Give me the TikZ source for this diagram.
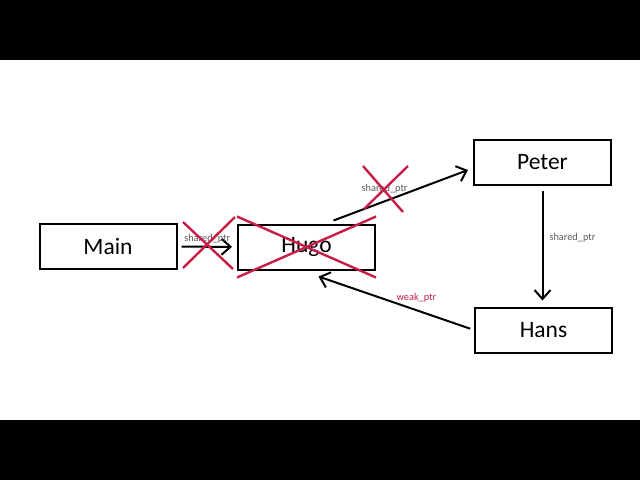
\documentclass[tikz,border=0pt]{standalone}
\usepackage{fontspec}
\setmainfont{Carlito}
\usetikzlibrary{arrows.meta}
\definecolor{crossred}{RGB}{198,30,72}
\definecolor{lblgray}{RGB}{90,90,90}
\begin{document}
\begin{tikzpicture}[x=1pt,y=-1pt]

\tikzstyle{obj}=[rectangle, draw, line width=2pt, minimum width=137pt, minimum height=45pt, font=\fontsize{23.5}{26}\selectfont]
\tikzstyle{arrow}=[-{Straight Barb[length=9pt,width=16pt]}, line width=2pt]
\tikzstyle{lbl}=[font=\fontsize{10.3}{12}\selectfont, text=lblgray, inner sep=1pt]
\tikzstyle{cross}=[crossred, line width=2.4pt]

\fill[black] (0,0) rectangle (640,480);
\fill[white] (0,60) rectangle (640,420);

\node (Main) [obj] at (108,246.5) {Main};
\node (Hugo) [obj] at (306.5,247) {Hugo};
\node (Peter) [obj] at (542.5,162) {Peter};
\node (Hans) [obj] at (543.5,330) {Hans};

\draw [arrow, shorten <=4pt, shorten >=5pt] (Main) -- node [lbl, above=2pt] {shared\_ptr} (Hugo);
\draw [arrow] ([xshift=27pt,yshift=3pt]Hugo.north) -- node [lbl, pos=0.38, above=6pt] {shared\_ptr} ([xshift=-5pt,yshift=-8pt]Peter.west);
\draw [arrow, shorten <=5pt, shorten >=6pt] (Peter.south) -- node [lbl, pos=0.43, right=5pt] {shared\_ptr} (Peter.south |- Hans.north);
\draw [arrow, shorten <=4pt] (Hans.west) -- node [lbl, pos=0.37, above=6pt, text=crossred] {weak\_ptr} ([xshift=12pt,yshift=-6pt]Hugo.south);

\draw [cross] ([yshift=7pt]Hugo.north west) -- ([yshift=-7pt]Hugo.south east);
\draw [cross] ([yshift=-7pt]Hugo.south west) -- ([yshift=7pt]Hugo.north east);
\draw [cross] (183,222) -- (233,269);
\draw [cross] (183,268) -- (235,217);
\draw [cross] (363,166) -- (403,212);
\draw [cross] (364,209) -- (408,166);

\end{tikzpicture}
\end{document}
